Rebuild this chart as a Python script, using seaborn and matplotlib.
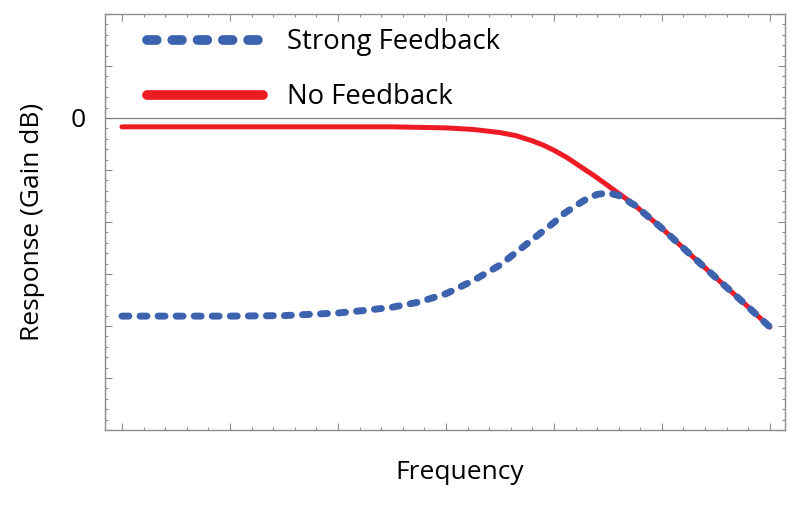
import matplotlib
matplotlib.use('Agg')

import matplotlib.pyplot as plt
import seaborn as sns
from matplotlib.ticker import MultipleLocator, NullFormatter

sns.set_style('ticks')
plt.rcParams['font.family'] = ['Open Sans', 'DejaVu Sans']
plt.rcParams['text.color'] = 'black'
plt.rcParams['axes.labelcolor'] = 'black'
plt.rcParams['ytick.labelcolor'] = 'black'

# 频率（任意单位）与增益 dB，读图估计
freq_none = [0, 0.5, 1, 1.5, 2, 2.5, 2.75, 3, 3.25, 3.5, 3.65, 3.8, 3.9, 4,
             4.12, 4.25, 4.38, 4.5, 4.62, 4.75, 5, 5.25, 5.5, 5.75, 6]
gain_none = [-1.7, -1.7, -1.7, -1.7, -1.7, -1.7, -1.8, -1.9, -2.2, -2.8,
             -3.4, -4.4, -5.2, -6.2, -7.6, -9.4, -11.2, -13.0, -14.8, -16.8,
             -21.2, -26.0, -30.7, -35.4, -40.2]

freq_strong = [0, 0.5, 1, 1.5, 2, 2.25, 2.5, 2.75, 3, 3.25, 3.5, 3.75, 4,
               4.1, 4.2, 4.3, 4.4, 4.5, 4.6, 4.75, 5, 5.25, 5.5, 5.75, 6]
gain_strong = [-38.1, -38.1, -38.1, -38.0, -37.5, -37.0, -36.4, -35.4, -33.8,
               -31.3, -28.3, -24.2, -20.1, -18.3, -16.9, -15.6, -14.7, -14.4,
               -14.9, -16.8, -21.2, -26.0, -30.7, -35.4, -40.2]

labels = ['Strong Feedback', 'No Feedback']
colors = ['#3D62AE', '#ED1C24']

fig = plt.figure(figsize=(8, 5.05), dpi=100)
ax = fig.add_axes([0.13125, 0.1485, 0.85, 0.8238])

ax.axhline(0, color='#808080', lw=0.9, zorder=1)

sns.lineplot(x=freq_none, y=gain_none, color=colors[1], linewidth=3.6,
             label=labels[1], ax=ax, zorder=2)
sns.lineplot(x=freq_strong, y=gain_strong, color=colors[0], linewidth=5.0,
             label=labels[0], ax=ax, zorder=3)
red_line, blue_line = ax.lines[-2], ax.lines[-1]
red_line.set_solid_capstyle('round')
red_line.set_solid_joinstyle('round')
blue_line.set_dashes((1.0, 1.6))
blue_line.set_dash_capstyle('round')

ax.set_xlim(-0.157, 6.14)
ax.set_ylim(-60, 20)

ax.xaxis.set_major_locator(MultipleLocator(1))
ax.xaxis.set_minor_locator(MultipleLocator(0.2))
ax.xaxis.set_major_formatter(NullFormatter())
ax.yaxis.set_minor_locator(MultipleLocator(2))
ax.set_yticks([-60, -50, -40, -30, -20, -10, 0, 10, 20])
ax.set_yticklabels(['', '', '', '', '', '', '0', '', ''])
ax.tick_params(which='both', direction='in', top=True, right=True,
               color='#8c8c8c', width=0.8)
ax.tick_params(which='major', length=5, labelsize=19, pad=14)
ax.tick_params(which='minor', length=2.5)

for s in ax.spines.values():
    s.set_color('#8c8c8c')
    s.set_linewidth(1.0)

ax.set_xlabel('Frequency', fontsize=19)
ax.set_ylabel('Response (Gain dB)', fontsize=19)
ax.xaxis.set_label_coords(0.522, -0.072)
ax.yaxis.set_label_coords(-0.088, 0.5)

handles, labs = ax.get_legend_handles_labels()
leg = ax.legend(handles[::-1], labs[::-1], loc='upper left',
                bbox_to_anchor=(0.026, 1.025), frameon=False, fontsize=19.8,
                handlelength=4.2, handletextpad=0.86, labelspacing=0.98)
for ln in leg.get_lines():
    ln.set_linewidth(7)

fig.savefig('out.png', dpi=100)
plt.close()
